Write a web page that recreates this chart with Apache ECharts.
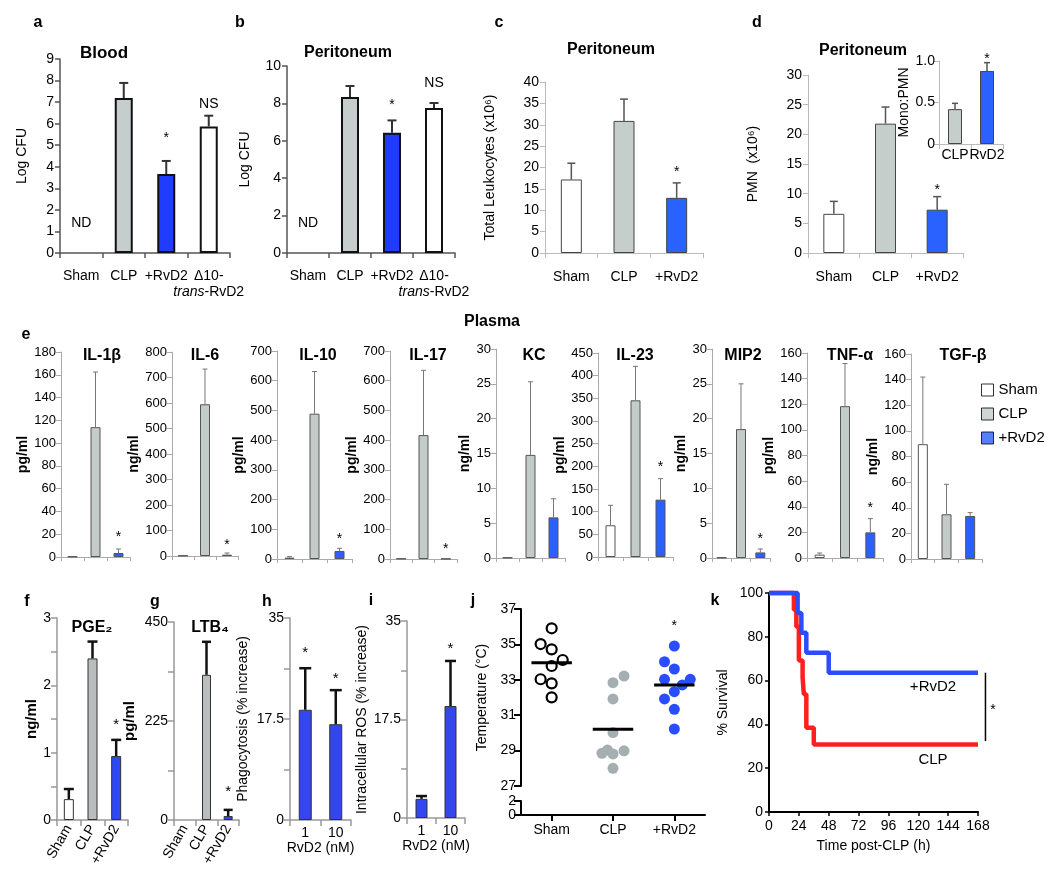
<!DOCTYPE html>
<html><head><meta charset="utf-8">
<script src="https://cdn.jsdelivr.net/npm/echarts@6/dist/echarts.min.js"></script>
<style>html,body{margin:0;padding:0;background:#fff}#c{width:1050px;height:882px}</style>
</head><body><div id="c"></div>
<script>
// ================= DATA =================
// a: Blood
const catsA = ['Sham', 'CLP', '+RvD2', 'Δ10-trans-RvD2'];
const bloodLogCFU = [null, 7.19, 3.66, 5.87];
const bloodErr = [null, 0.70, 0.61, 0.50];
const bloodNotes = ['ND', '', '*', 'NS'];
const bloodNoteY = [1.4, null, 5.47, 6.9];
// b: Peritoneum CFU
const periLogCFU = [null, 8.34, 6.43, 7.75];
const periErr = [null, 0.59, 0.66, 0.27];
const periNotes = ['ND', '', '*', 'NS'];
const periNoteY = [1.6, null, 8.07, 9.09];
// c: total leukocytes
const cats3 = ['Sham', 'CLP', '+RvD2'];
const leukocytes = [17.2, 30.9, 12.9];
const leukocytesErr = [3.8, 5.1, 3.5];
const leukNotes = ['', '', '*'];
const leukNoteY = [null, null, 19.6];
// d: PMN
const pmn = [6.6, 21.8, 7.3];
const pmnErr = [2.1, 2.8, 2.2];
const pmnNotes = ['', '', '*'];
const pmnNoteY = [null, null, 11.1];
// d inset
const insetCats = ['CLP', 'RvD2'];
const monoPmn = [0.42, 0.88];
const monoPmnErr = [0.07, 0.10];
const insetNotes = ['', '*'];
const insetNoteY = [null, 1.06];
// e: plasma cytokines
const cytoNames = ['IL-1β', 'IL-6', 'IL-10', 'IL-17', 'KC', 'IL-23', 'MIP2', 'TNF-α', 'TGF-β'];
const cytoUnits = ['pg/ml', 'ng/ml', 'pg/ml', 'pg/ml', 'ng/ml', 'pg/ml', 'ng/ml', 'pg/ml', 'ng/ml'];
const cytoMax = [180, 800, 700, 700, 30, 450, 30, 160, 160];
const cytoStep = [20, 100, 100, 100, 5, 50, 5, 20, 20];
const cytoSham = [0.4, 1.5, 4.5, 1.5, 0.06, 70, 0.06, 2.6, 89.6];
const cytoCLP = [114, 595, 489, 417, 14.8, 345.6, 18.5, 118.5, 34.9];
const cytoRvD2 = [3.5, 5.2, 27, 0.8, 5.83, 126.5, 0.8, 20, 33.6];
const cytoShamErr = [0, 0, 3.5, 0, 0, 44, 0, 1.3, 52.4];
const cytoCLPErr = [48.4, 138, 142, 218, 10.5, 75, 6.5, 33.3, 23.4];
const cytoRvD2Err = [3.5, 6.6, 9, 0, 2.67, 46.3, 0.5, 10.7, 2.6];
const cytoStarY = [19.6, 55, 75, 41, null, 203.7, 3.1, 41, null];
const legendNames = ['Sham', 'CLP', '+RvD2'];
// f: PGE2
const pge2 = [0.31, 2.40, 0.95];
const pge2Err = [0.15, 0.25, 0.24];
const pge2Notes = ['', '', '*'];
const pge2NoteY = [null, null, 1.46];
// g: LTB4
const ltb4 = [null, 330, 9];
const ltb4Err = [0, 75, 14];
const ltb4Notes = ['', '', '*'];
const ltb4NoteY = [null, null, 70];
// h / i
const doseCats = ['1', '10'];
const phagocytosis = [19.1, 16.6];
const phagocytosisErr = [7.2, 5.9];
const phagoNotes = ['*', '*'];
const phagoNoteY = [29.5, 25];
const ros = [3.4, 19.9];
const rosErr = [0.5, 8.0];
const rosNotes = ['', '*'];
const rosNoteY = [null, 30.5];
// j: temperature
const tempGroups = ['Sham', 'CLP', '+RvD2'];
const tempSham = [35.91, 35.02, 34.72, 34.12, 33.78, 33.03, 32.80, 32.01];
const tempShamJitter = [0, -0.18, 0, 0.18, 0, -0.18, 0, 0];
const tempCLP = [33.21, 32.84, 31.92, 30.02, 28.85, 29.03, 28.81, 28.99, 28.0];
const tempCLPJitter = [0.18, 0, 0, 0, -0.18, -0.09, 0, 0.18, 0];
const tempRvD2 = [34.91, 34.02, 33.61, 33.03, 33.03, 32.71, 32.33, 31.92, 31.33, 30.22];
const tempRvD2Jitter = [0, -0.16, 0, -0.16, 0.26, 0.13, 0, -0.16, 0, 0];
const tempMeans = [33.97, 30.2, 32.71];
const tempStarY = 36.2;
// k: survival (time h, % survival)
const survRvD2 = [[0, 100], [23, 90.9], [26, 81.8], [30, 72.7], [48, 63.6], [168, 63.6]];
const survCLP = [[0, 100], [20, 92.3], [22, 84.6], [24, 69.2], [27, 61.5], [28, 53.8], [30, 38.5], [36, 30.8], [168, 30.8]];

// ================= BUILD =================
const FONT = '"Liberation Sans", Arial, Helvetica, sans-serif';
const option = {
  animation: false, backgroundColor: '#fff', textStyle: { fontFamily: FONT },
  grid: [], xAxis: [], yAxis: [], series: [], graphic: []
};
function addGrid(r) {
  option.grid.push({ left: r[0], top: r[1], width: r[2], height: r[3], containLabel: false, outerBoundsMode: 'none' });
  return option.grid.length - 1;
}
function textStyleObj(s, size, bold, extra) {
  return Object.assign({ text: s, fill: '#000', fontSize: size, fontWeight: bold ? 'bold' : 'normal', fontFamily: FONT,
    align: 'center', verticalAlign: 'middle', textAlign: 'center', textVerticalAlign: 'middle' }, extra || {});
}
function addNotes(gi, texts, ys, fontSize) {
  const d = [];
  texts.forEach((t, i) => { if (t && ys[i] != null) d.push({ value: [i, ys[i]], name: t }); });
  if (!d.length) return;
  option.series.push({
    type: 'custom', xAxisIndex: gi, yAxisIndex: gi, silent: true, z: 5, clip: false, data: d, encode: { x: 0, y: 1 },
    renderItem: (params, api) => {
      const c = api.coord([api.value(0), api.value(1)]);
      const t = d[params.dataIndex].name;
      if (t === '*') {
        return { type: 'text', x: c[0], y: c[1] - 0.3 * fontSize,
          style: textStyleObj(t, fontSize, false, { verticalAlign: 'top', textVerticalAlign: 'top' }) };
      }
      return { type: 'text', x: c[0], y: c[1], style: textStyleObj(t, fontSize, false) };
    }
  });
}
function barPanel(p) {
  const gi = addGrid(p.rect);
  const ax = { color: p.axisColor, width: p.axisWidth || 1 };
  option.xAxis.push({
    type: 'category', gridIndex: gi, data: p.cats,
    axisLine: { show: true, lineStyle: ax },
    axisTick: { show: true, length: p.xTickLen == null ? 5 : p.xTickLen, lineStyle: ax },
    axisLabel: Object.assign({ show: p.showX !== false, interval: 0, hideOverlap: false, color: '#000', fontSize: p.xFont || 14,
      fontFamily: FONT, margin: p.xMargin == null ? 8 : p.xMargin }, p.xLabel || {}),
    name: p.xName || '', nameLocation: 'middle', nameGap: p.xNameGap || 20,
    nameTextStyle: { fontSize: 14, color: '#000', fontFamily: FONT },
    splitLine: { show: false }
  });
  option.yAxis.push({
    type: 'value', gridIndex: gi, min: 0, max: p.max, interval: p.interval,
    axisLine: { show: true, lineStyle: ax },
    axisTick: { show: true, length: p.yTickLen == null ? 5 : p.yTickLen, lineStyle: ax },
    axisLabel: { color: '#000', fontSize: p.yFont || 14, fontFamily: FONT, margin: p.yMargin == null ? 6 : p.yMargin, formatter: p.yFmt },
    splitLine: { show: false },
    name: p.yName || '', nameLocation: 'middle', nameRotate: 90, nameGap: p.yNameGap,
    nameTextStyle: Object.assign({ fontSize: 14, color: '#000', fontFamily: FONT }, p.yNameStyle || {})
  });
  option.series.push({
    type: 'bar', xAxisIndex: gi, yAxisIndex: gi, barWidth: p.barWidth, silent: true,
    itemStyle: { borderColor: p.barBorder, borderWidth: p.barBorderWidth },
    data: p.vals.map((v, i) => v == null ? '-' : { value: v, itemStyle: { color: p.colors[i] } })
  });
  const eb = [];
  p.vals.forEach((v, i) => { if (v != null && p.errs[i] > 0) eb.push([i, v, v + p.errs[i]]); });
  option.series.push({
    type: 'custom', xAxisIndex: gi, yAxisIndex: gi, silent: true, z: 3, encode: { x: 0, y: [1, 2] }, data: eb,
    renderItem: (params, api) => {
      const lo = api.coord([api.value(0), api.value(1)]);
      const hi = api.coord([api.value(0), api.value(2)]);
      const hw = p.capW / 2;
      const st = { stroke: p.errColor, lineWidth: p.errWidth };
      return { type: 'group', children: [
        { type: 'line', shape: { x1: lo[0], y1: lo[1], x2: hi[0], y2: hi[1] }, style: st },
        { type: 'line', shape: { x1: hi[0] - hw, y1: hi[1], x2: hi[0] + hw, y2: hi[1] }, style: st }
      ] };
    }
  });
  if (p.notes) addNotes(gi, p.notes, p.noteY, p.noteFont || 14);
  return gi;
}

// ---- a ----
const styleAB = { axisColor: '#555', axisWidth: 1.5, barWidth: 18, barBorder: '#111', barBorderWidth: 2,
  errColor: '#333', errWidth: 2, capW: 9, yName: 'Log CFU', xMargin: 15 };
const labelA = {
  formatter: (v) => v.indexOf('trans') >= 0 ? '{n|Δ10-}\n{i|trans}{n|-RvD2}' : '{n|' + v + '}',
  rich: { n: { fontSize: 14, fontFamily: FONT, color: '#000', lineHeight: 16 },
          i: { fontSize: 14, fontFamily: FONT, fontStyle: 'italic', color: '#000', lineHeight: 16 } }
};
barPanel(Object.assign({}, styleAB, { rect: [60, 59, 170, 194], max: 9, interval: 1, cats: catsA, vals: bloodLogCFU, errs: bloodErr,
  colors: ['#fff', '#c5cecc', '#1f3cff', '#fff'], notes: bloodNotes, noteY: bloodNoteY, yNameGap: 31, xLabel: labelA }));
// ---- b ----
barPanel(Object.assign({}, styleAB, { rect: [287, 66, 168, 187], max: 10, interval: 2, cats: catsA, vals: periLogCFU, errs: periErr,
  colors: ['#fff', '#c5cecc', '#1f3cff', '#fff'], notes: periNotes, noteY: periNoteY, yNameGap: 35, xLabel: labelA }));
// ---- c ----
const styleCD = { axisColor: '#bbb', axisWidth: 1, barWidth: 21, barBorder: '#444', barBorderWidth: 1,
  errColor: '#555', errWidth: 1.5, capW: 8, xMargin: 17 };
barPanel(Object.assign({}, styleCD, { rect: [545, 82, 158, 171], max: 40, interval: 5, cats: cats3, vals: leukocytes, errs: leukocytesErr,
  colors: ['#fff', '#c5cecb', '#2962ff'], notes: leukNotes, noteY: leukNoteY, yName: 'Total Leukocytes (x10⁶)', yNameGap: 48 }));
// ---- d ----
barPanel(Object.assign({}, styleCD, { rect: [808, 75, 155, 178], max: 30, interval: 5, cats: cats3, vals: pmn, errs: pmnErr,
  colors: ['#fff', '#c5cecb', '#2962ff'], notes: pmnNotes, noteY: pmnNoteY, yName: 'PMN  (x10⁶)', yNameGap: 48 }));
barPanel(Object.assign({}, styleCD, { rect: [939, 61, 64, 83], max: 1, interval: 0.5, cats: insetCats, vals: monoPmn, errs: monoPmnErr,
  colors: ['#c5cecb', '#2962ff'], notes: insetNotes, noteY: insetNoteY, yName: 'Mono:PMN', yNameGap: 23, barWidth: 14,
  xMargin: 4, yMargin: 4, capW: 6, yFmt: (v) => v === 0 ? '0' : v.toFixed(1) }));
// ---- e ----
const eRects = [[61, 352, 69, 205], [172, 352, 66, 204], [277, 351, 75, 208], [390, 351, 67, 208], [496, 349, 69, 209],
  [598, 353, 75, 204], [712, 349, 58, 209], [807, 353, 76, 205], [911, 354, 71, 205]];
const eNameGaps = [29, 29, 30, 31, 24, 28, 22, 28, 22];
const eGrids = [];
cytoNames.forEach((nm, k) => {
  eGrids.push(barPanel({ rect: eRects[k], max: cytoMax[k], interval: cytoStep[k], cats: cats3,
    vals: [cytoSham[k], cytoCLP[k], cytoRvD2[k]], errs: [cytoShamErr[k], cytoCLPErr[k], cytoRvD2Err[k]],
    colors: ['#fff', '#c3ccc9', '#2b5fff'], axisColor: '#aaa', axisWidth: 1, barWidth: 10, barBorder: '#555', barBorderWidth: 1,
    errColor: '#777', errWidth: 1, capW: 5, showX: false, yFont: 13, yMargin: 5, xTickLen: 4,
    notes: ['', '', cytoStarY[k] == null ? '' : '*'], noteY: [null, null, cytoStarY[k]],
    yName: cytoUnits[k], yNameGap: eNameGaps[k], yNameStyle: { fontWeight: 'bold', fontSize: 14 } }));
});
// legend dummy series
const legendColors = ['#fff', '#c3ccc9', '#2b5fff'];
legendNames.forEach((nm, i) => {
  option.series.push({ type: 'scatter', name: nm, xAxisIndex: eGrids[8], yAxisIndex: eGrids[8], data: [],
    itemStyle: { color: legendColors[i], borderColor: '#000', borderWidth: 1 } });
});
option.legend = { orient: 'vertical', left: 976, top: 377, itemWidth: 12, itemHeight: 12, itemGap: 8, icon: 'rect',
  selectedMode: false, data: legendNames,
  itemStyle: { borderColor: '#000', borderWidth: 1 },
  textStyle: { fontSize: 15, fontFamily: FONT, color: '#000', lineHeight: 16, padding: [0, 0, 0, 0] } };
// ---- f ----
const styleFG = { axisColor: '#999', axisWidth: 1.5, barBorder: '#333', barBorderWidth: 1, errColor: '#111', errWidth: 2.5,
  xTickLen: 6, yTickLen: 6, xMargin: 6, xLabel: { rotate: 60 } };
barPanel(Object.assign({}, styleFG, { rect: [57, 618, 71, 202], max: 3, interval: 0.5, cats: cats3, vals: pge2, errs: pge2Err,
  colors: ['#fff', '#b9bdbe', '#2f48f5'], barWidth: 10, capW: 10, notes: pge2Notes, noteY: pge2NoteY, noteFont: 15,
  yFmt: (v) => Number.isInteger(v) ? String(v) : '', yName: 'ng/ml', yNameGap: 16, yNameStyle: { fontWeight: 'bold', fontSize: 15 } }));
// ---- g ----
barPanel(Object.assign({}, styleFG, { rect: [174, 622, 65, 198], max: 450, interval: 112.5, cats: cats3, vals: ltb4, errs: ltb4Err,
  colors: ['#fff', '#b9bdbe', '#2f48f5'], barWidth: 9, capW: 9, notes: ltb4Notes, noteY: ltb4NoteY, noteFont: 15,
  yFmt: (v) => (v % 225 === 0) ? String(v) : '', yName: 'pg/ml', yNameGap: 37, yNameStyle: { fontWeight: 'bold', fontSize: 15 } }));
// ---- h ----
const hiFmt = (v) => (v === 0 || v === 17.5 || v === 35) ? String(v) : '';
barPanel(Object.assign({}, styleFG, { rect: [290, 618, 61, 202], max: 35, interval: 8.75, cats: doseCats, vals: phagocytosis, errs: phagocytosisErr,
  colors: ['#3446f0', '#3446f0'], barWidth: 13, capW: 12, notes: phagoNotes, noteY: phagoNoteY, noteFont: 15, xLabel: {},
  yFmt: hiFmt, yName: 'Phagocytosis (% increase)', yNameGap: 40, xName: 'RvD2 (nM)', xNameGap: 20 }));
// ---- i ----
barPanel(Object.assign({}, styleFG, { rect: [407, 621, 58, 197], max: 35, interval: 8.75, cats: doseCats, vals: ros, errs: rosErr,
  colors: ['#3446f0', '#3446f0'], barWidth: 12, capW: 11, notes: rosNotes, noteY: rosNoteY, noteFont: 15, xLabel: {},
  yFmt: hiFmt, yName: 'Intracellular ROS (% increase)', yNameGap: 38, xName: 'RvD2 (nM)', xNameGap: 20 }));
// ---- j ----
const blk = { color: '#000', width: 2 };
const gj = addGrid([521, 609, 184, 177]);
option.xAxis.push({ type: 'value', gridIndex: gj, min: 0, max: 3, show: false });
option.yAxis.push({ type: 'value', gridIndex: gj, min: 27, max: 37, interval: 2,
  axisLine: { show: true, lineStyle: blk }, axisTick: { show: true, length: 7, lineStyle: blk },
  axisLabel: { fontSize: 14, color: '#000', fontFamily: FONT, margin: 5 }, splitLine: { show: false },
  name: 'Temperature (°C)', nameLocation: 'middle', nameRotate: 90, nameGap: 32,
  nameTextStyle: { fontSize: 14, color: '#000', fontFamily: FONT } });
const gj2 = addGrid([521, 801, 184, 14]);
option.xAxis.push({ type: 'value', gridIndex: gj2, min: 0, max: 3,
  axisLine: { show: true, onZero: false, lineStyle: blk },
  axisTick: { show: true, customValues: [0.5, 1.5, 2.5], length: 6, lineStyle: blk },
  axisLabel: { customValues: [0.5, 1.5, 2.5], formatter: (v) => tempGroups[Math.floor(v)], fontSize: 14, color: '#000', fontFamily: FONT, margin: 8 },
  splitLine: { show: false } });
option.yAxis.push({ type: 'value', gridIndex: gj2, min: 0, max: 2, interval: 2,
  axisLine: { show: true, lineStyle: blk }, axisTick: { show: true, length: 7, lineStyle: blk },
  axisLabel: { fontSize: 14, color: '#000', fontFamily: FONT, margin: 5, padding: [0, 0, 10, 0] }, splitLine: { show: false } });
function tempSeries(vals, jit, center, style) {
  option.series.push({ type: 'scatter', xAxisIndex: gj, yAxisIndex: gj, silent: true, symbol: 'circle',
    symbolSize: style.size, itemStyle: style.item, z: 3,
    data: vals.map((v, i) => [center + jit[i], v]) });
}
tempSeries(tempSham, tempShamJitter, 0.5, { size: 10, item: { color: '#fff', borderColor: '#000', borderWidth: 2.2, opacity: 1 } });
tempSeries(tempCLP, tempCLPJitter, 1.5, { size: 11, item: { color: '#a5afb2', opacity: 1 } });
tempSeries(tempRvD2, tempRvD2Jitter, 2.5, { size: 11, item: { color: '#2a4dff', opacity: 1 } });
option.series.push({ type: 'custom', xAxisIndex: gj, yAxisIndex: gj, silent: true, z: 6,
  data: tempMeans.map((m, i) => [i + 0.5, m]), encode: { x: 0, y: 1 },
  renderItem: (params, api) => {
    const a = api.coord([api.value(0) - 0.33, api.value(1)]);
    const b = api.coord([api.value(0) + 0.33, api.value(1)]);
    return { type: 'line', shape: { x1: a[0], y1: a[1], x2: b[0], y2: b[1] }, style: { stroke: '#000', lineWidth: 3 } };
  } });
option.series.push({ type: 'custom', xAxisIndex: gj, yAxisIndex: gj, silent: true, z: 6, data: [[2.5, tempStarY]], encode: { x: 0, y: 1 },
  renderItem: (params, api) => {
    const c = api.coord([api.value(0), api.value(1)]);
    return { type: 'text', x: c[0], y: c[1] - 4, style: textStyleObj('*', 14, false, { verticalAlign: 'top', textVerticalAlign: 'top' }) };
  } });
// ---- k ----
const gk = addGrid([769, 593, 209, 219]);
option.xAxis.push({ type: 'value', gridIndex: gk, min: 0, max: 168, interval: 24,
  axisLine: { show: true, lineStyle: blk }, axisTick: { show: true, length: 4, lineStyle: { color: '#000', width: 1.5 } },
  axisLabel: { fontSize: 14, color: '#000', fontFamily: FONT, margin: 7 }, splitLine: { show: false },
  name: 'Time post-CLP (h)', nameLocation: 'middle', nameGap: 27, nameTextStyle: { fontSize: 14, color: '#000', fontFamily: FONT } });
option.yAxis.push({ type: 'value', gridIndex: gk, min: 0, max: 100, interval: 20,
  axisLine: { show: true, lineStyle: blk }, axisTick: { show: true, length: 4, lineStyle: { color: '#000', width: 1.5 } },
  axisLabel: { fontSize: 14, color: '#000', fontFamily: FONT, margin: 6 }, splitLine: { show: false },
  name: '% Survival', nameLocation: 'middle', nameRotate: 90, nameGap: 39, nameTextStyle: { fontSize: 14, color: '#000', fontFamily: FONT } });
option.series.push({ type: 'line', name: 'CLP surv', xAxisIndex: gk, yAxisIndex: gk, step: 'end', showSymbol: false, symbol: 'none',
  clip: false, silent: true, data: survCLP, lineStyle: { color: '#ff1f1f', width: 4.5 }, z: 3 });
option.series.push({ type: 'line', name: 'RvD2 surv', xAxisIndex: gk, yAxisIndex: gk, step: 'end', showSymbol: false, symbol: 'none',
  clip: false, silent: true, data: survRvD2, lineStyle: { color: '#2b4cff', width: 4.5 }, z: 4 });
option.series.push({ type: 'custom', xAxisIndex: gk, yAxisIndex: gk, silent: true, clip: false, z: 5,
  data: [[174, survRvD2[survRvD2.length - 1][1], survCLP[survCLP.length - 1][1] + 1.6]], encode: { x: 0, y: [1, 2] },
  renderItem: (params, api) => {
    const a = api.coord([api.value(0), api.value(1)]);
    const b = api.coord([api.value(0), api.value(2)]);
    const m = api.coord([api.value(0) + 6, (api.value(1) + api.value(2)) / 2]);
    return { type: 'group', children: [
      { type: 'line', shape: { x1: a[0], y1: a[1], x2: b[0], y2: b[1] }, style: { stroke: '#000', lineWidth: 1.5 } },
      { type: 'text', x: m[0], y: m[1] - 4, style: textStyleObj('*', 14, false, { verticalAlign: 'top', textVerticalAlign: 'top' }) }
    ] };
  } });

// ---- text annotations ----
function txt(x, y, s, size, bold) {
  option.graphic.push({ type: 'text', x: x, y: y, silent: true, style: textStyleObj(s, size, bold) });
}
[['a', 38, 23], ['b', 240, 23], ['c', 499, 23], ['d', 757, 23], ['e', 26, 335], ['f', 27, 602], ['g', 155, 602],
 ['h', 267, 602], ['i', 371, 601], ['j', 473, 601], ['k', 715, 601]].forEach(t => txt(t[1], t[2], t[0], 16, true));
txt(104, 53, 'Blood', 17, true);
txt(348, 53, 'Peritoneum', 16, true);
txt(611, 50, 'Peritoneum', 16, true);
txt(863, 51, 'Peritoneum', 16, true);
txt(492, 322, 'Plasma', 16, true);
const eTitleX = [102, 205, 318, 428, 534, 635, 743, 850, 963];
cytoNames.forEach((nm, k) => txt(eTitleX[k], 356, nm, 16, true));
txt(92, 628, 'PGE₂', 16, true);
txt(210, 628, 'LTB₄', 16, true);
txt(933, 687, '+RvD2', 15, false);
txt(933, 760, 'CLP', 15, false);

const chart = echarts.init(document.getElementById('c'), null, { renderer: 'canvas', width: 1050, height: 882 });
chart.setOption(option);
</script>
</body></html>
